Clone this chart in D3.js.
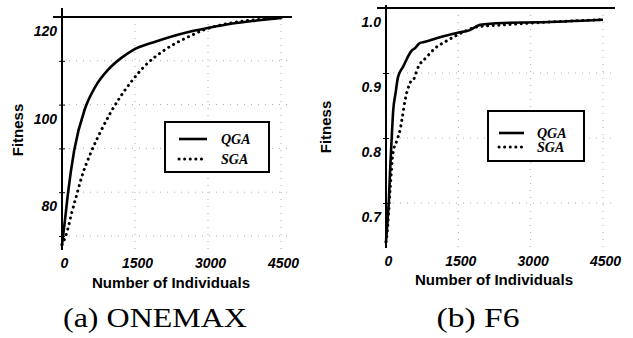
<!DOCTYPE html>
<html>
<head>
<meta charset="utf-8">
<script src="https://cdn.jsdelivr.net/npm/d3@7"></script>
<style>
  body { margin: 0; background: #fff; }
  svg { display: block; }
  .tick text { font-family: "Liberation Sans", Arial, sans-serif; font-weight: bold; font-style: italic; font-size: 14px; fill: #000; }
  .title { font-family: "Liberation Sans", Arial, sans-serif; font-weight: bold; fill: #000; }
  .legend-text { font-family: "Liberation Serif", "Times New Roman", serif; font-weight: bold; font-style: italic; font-size: 14px; fill: #000; }
  .caption { font-family: "Liberation Serif", "Times New Roman", serif; font-size: 28px; fill: #000; }
</style>
</head>
<body>
<svg width="633" height="338"></svg>
<script>
// x ticks shared by both panels
const xTicks = [0, 1500, 3000, 4500];

// (a) ONEMAX
const onemaxYTicks = [70, 80, 90, 100, 110, 120];
const onemaxYLabels = [80, 100, 120];
const onemaxQGA = [[0, 68], [60, 73.5], [120, 79.5], [250, 89.5], [470, 99], [680, 104], [950, 108],
  [1200, 110.5], [1450, 112.4], [1900, 114.3], [2600, 116.6], [3000, 117.5], [3500, 118.5], [4000, 119.2], [4500, 119.8]];
const onemaxSGA = [[0, 68], [100, 70.8], [200, 75.3], [300, 79.3], [400, 83.3], [600, 89.2], [800, 94], [1000, 98.2],
  [1200, 101.8], [1450, 105.6], [1700, 108.8], [2100, 112.4], [2600, 115.5], [2950, 117.2], [3500, 118.7], [4000, 119.4], [4500, 119.8]];

// (b) F6
const f6YTicks = [0.7, 0.8, 0.9, 1.0];
const f6YLabels = [0.7, 0.8, 0.9, 1.0];
const f6QGA = [[0, 0.64], [20, 0.66], [60, 0.705], [85, 0.75], [105, 0.78], [125, 0.81], [145, 0.838], [200, 0.87], [250, 0.894],
  [350, 0.909], [540, 0.935], [600, 0.938], [700, 0.946], [810, 0.948], [950, 0.951], [1120, 0.955], [1490, 0.962],
  [1740, 0.966], [1950, 0.974], [2430, 0.977], [3130, 0.978], [4500, 0.982]];
const f6SGA = [[0, 0.64], [20, 0.651], [85, 0.72], [145, 0.777], [230, 0.797], [290, 0.812], [330, 0.828], [395, 0.858],
  [500, 0.885], [600, 0.894], [645, 0.905], [850, 0.925], [1015, 0.938], [1225, 0.948], [1390, 0.955], [1600, 0.963],
  [1890, 0.971], [2430, 0.974], [3050, 0.977], [4500, 0.982]];

const legendNames = ['QGA', 'SGA'];

const svg = d3.select('svg');

function drawPanel(p) {
  const g = svg.append('g');
  const x = d3.scaleLinear().domain([0, 4500]).range(p.xRange);
  const y = d3.scaleLinear().domain(p.yDomain).range(p.yRange);

  // faint dotted grid
  g.append('g').selectAll('line').data(p.yTicks.filter(d => d !== p.yDomain[0])).enter().append('line')
    .attr('x1', x(0)).attr('x2', p.topLineX[1])
    .attr('y1', d => y(d)).attr('y2', d => y(d))
    .attr('stroke', '#aaa').attr('stroke-width', 1).attr('stroke-dasharray', '1,6');
  g.append('g').selectAll('line').data(xTicks.slice(1)).enter().append('line')
    .attr('x1', d => x(d)).attr('x2', d => x(d))
    .attr('y1', y(p.yDomain[0])).attr('y2', p.axisBottom)
    .attr('stroke', '#aaa').attr('stroke-width', 1).attr('stroke-dasharray', '1,6');

  // top line and left axis line
  g.append('line').attr('x1', p.topLineX[0]).attr('x2', p.topLineX[1])
    .attr('y1', y(p.yDomain[0])).attr('y2', y(p.yDomain[0]))
    .attr('stroke', '#000').attr('stroke-width', 2);
  g.append('line').attr('x1', x(0)).attr('x2', x(0))
    .attr('y1', p.axisTop).attr('y2', p.axisBottom)
    .attr('stroke', '#000').attr('stroke-width', 2);

  const yAxis = d3.axisLeft(y).tickValues(p.yTicks).tickSize(3)
    .tickFormat(d => p.yLabels.indexOf(d) >= 0 ? p.fmt(d) : '');
  const ya = g.append('g').attr('transform', `translate(${x(0)},0)`).call(yAxis);
  ya.select('.domain').remove();
  ya.selectAll('line').attr('x2', 3).attr('x1', -3).attr('stroke', '#000');
  ya.selectAll('text').attr('x', -5).attr('y', 14);

  const xAxis = d3.axisBottom(x).tickValues(xTicks).tickSize(0).tickFormat(d3.format('d'));
  const xa = g.append('g').attr('transform', `translate(0,${p.axisBottom})`).call(xAxis);
  xa.select('.domain').remove();
  xa.selectAll('text').attr('y', 8).attr('dx', 2);

  // curves
  const line = d3.line().x(d => x(d[0])).y(d => y(d[1])).curve(d3.curveMonotoneX);
  g.append('path').datum(p.qga).attr('d', line)
    .attr('fill', 'none').attr('stroke', '#000').attr('stroke-width', 2.6).attr('stroke-linejoin', 'round');
  g.append('path').datum(p.sga).attr('d', line)
    .attr('fill', 'none').attr('stroke', '#000').attr('stroke-width', 3)
    .attr('stroke-linecap', 'round').attr('stroke-dasharray', '0.1,5.5');

  // axis titles
  g.append('text').attr('class', 'title')
    .attr('x', p.xTitle[0]).attr('y', p.xTitle[1])
    .attr('text-anchor', 'middle').style('font-size', '14px')
    .attr('textLength', 158).attr('lengthAdjust', 'spacingAndGlyphs')
    .text('Number of Individuals');
  g.append('text').attr('class', 'title')
    .attr('transform', `translate(${p.yTitle[0]},${p.yTitle[1]}) rotate(-90)`)
    .attr('text-anchor', 'middle').style('font-size', '15px')
    .text('Fitness');

  // legend
  const lg = g.append('g').attr('transform', `translate(${p.legend.x},${p.legend.y})`);
  lg.append('rect').attr('width', p.legend.w).attr('height', p.legend.h)
    .attr('fill', '#fff').attr('stroke', '#000').attr('stroke-width', 2);
  legendNames.forEach((name, i) => {
    const ly = p.legend.row0 + i * p.legend.gap;
    lg.append('line').attr('x1', p.legend.lx0).attr('x2', p.legend.lx1).attr('y1', ly).attr('y2', ly)
      .attr('stroke', '#000').attr('stroke-width', i === 0 ? 2.6 : 3)
      .attr('stroke-linecap', i === 0 ? 'butt' : 'round')
      .attr('stroke-dasharray', i === 0 ? null : '0.1,5.5');
    lg.append('text').attr('class', 'legend-text').attr('x', p.legend.tx).attr('y', ly + 5).text(name);
  });

  // caption
  g.append('text').attr('class', 'caption')
    .attr('x', p.caption.x).attr('y', 327).attr('text-anchor', 'middle')
    .attr('textLength', p.caption.w).attr('lengthAdjust', 'spacingAndGlyphs')
    .text(p.caption.text);
}

drawPanel({
  xRange: [62, 281], yDomain: [120, 70], yRange: [17, 236],
  yTicks: onemaxYTicks, yLabels: onemaxYLabels, fmt: d3.format('d'),
  qga: onemaxQGA, sga: onemaxSGA,
  topLineX: [53, 292], axisTop: 8, axisBottom: 250,
  xTitle: [171, 288], yTitle: [23, 130],
  legend: { x: 165, y: 122, w: 104, h: 50, lx0: 14, lx1: 42, row0: 17, gap: 20, tx: 56 },
  caption: { x: 155, w: 184, text: '(a) ONEMAX' }
});

drawPanel({
  xRange: [386, 603], yDomain: [1.0, 0.7], yRange: [8, 203],
  yTicks: f6YTicks, yLabels: f6YLabels, fmt: d3.format('.1f'),
  qga: f6QGA, sga: f6SGA,
  topLineX: [377, 615], axisTop: 5, axisBottom: 248,
  xTitle: [494, 285], yTitle: [331, 127],
  legend: { x: 488, y: 111, w: 96, h: 50, lx0: 11, lx1: 36, row0: 22, gap: 14, tx: 49 },
  caption: { x: 478, w: 83, text: '(b) F6' }
});
</script>
</body>
</html>
